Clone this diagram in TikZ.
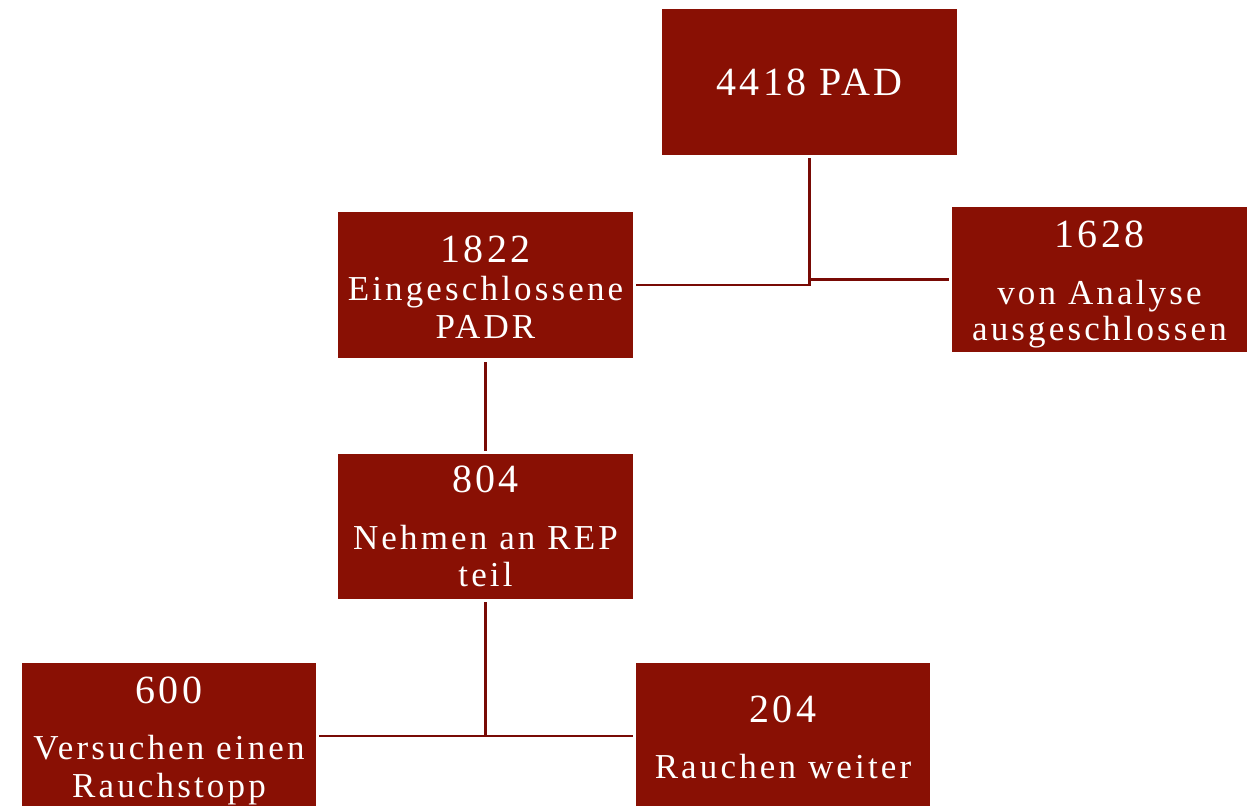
\documentclass[tikz,border=0pt]{standalone}
\usepackage{fontspec}
\setmainfont{Liberation Serif}
\newfontfamily\numfont{Liberation Serif}[LetterSpace=8]
\newfontfamily\txtfont{Liberation Serif}[LetterSpace=9]
\definecolor{boxred}{RGB}{137,16,4}
\definecolor{linered}{RGB}{120,10,5}
\tikzset{
  box/.style={fill=boxred, draw=none, anchor=north west, inner sep=0pt},
  num/.style={text=white, anchor=base, inner sep=0pt, font=\numfont\fontsize{40}{44}\selectfont},
  txt/.style={text=white, anchor=base, inner sep=0pt, font=\txtfont\fontsize{35}{38}\selectfont},
  conn/.style={draw=linered, line width=2.6pt}
}
\begin{document}
\begin{tikzpicture}[x=1pt,y=-1pt]
\useasboundingbox (0,0) rectangle (1251,806);
% boxes
\node[box, minimum width=295pt, minimum height=146pt] (top) at (662,9) {};
\node[box, minimum width=295pt, minimum height=146pt] (b1822) at (338,212) {};
\node[box, minimum width=295pt, minimum height=145pt] (b1628) at (952,207) {};
\node[box, minimum width=295pt, minimum height=145pt] (b804) at (338,454) {};
\node[box, minimum width=294pt, minimum height=150pt] (b600) at (22,663) {};
\node[box, minimum width=294pt, minimum height=150pt] (b204) at (636,663) {};
% texts
\node[num] (t0) at (809.5,95) {4418 PAD};
\node[num] (t1a) at (485.5,262) {1822};
\node[txt] (t1b) at (485.5,300) {Eingeschlossene};
\node[txt] (t1c) at (485.5,338) {PADR};
\node[num] (t2a) at (1099.5,247) {1628};
\node[txt] (t2b) at (1099.5,304) {von Analyse};
\node[txt] (t2c) at (1099.5,340) {ausgeschlossen};
\node[num] (t3a) at (485.5,492) {804};
\node[txt] (t3b) at (485.5,549) {Nehmen an REP};
\node[txt] (t3c) at (485.5,586) {teil};
\node[num] (t4a) at (169,703) {600};
\node[txt] (t4b) at (169,759) {Versuchen einen};
\node[txt] (t4c) at (169,797) {Rauchstopp};
\node[num] (t5a) at (783,722) {204};
\node[txt] (t5b) at (783,778) {Rauchen weiter};
% connectors
\coordinate (j1) at (top.south |- 0,285);
\coordinate (j2) at (b804.south |- 0,736);
\draw[conn] ([yshift=-3pt]top.south) -- (j1) -- ([xshift=3pt]b1822.east |- j1);
\draw[conn] (top.south |- b1628.west) -- ([xshift=-3pt]b1628.west);
\draw[conn] ([yshift=-4pt]b1822.south) -- ([yshift=3pt]b804.north);
\draw[conn] ([yshift=-3pt]b804.south) -- (j2) -- ([xshift=3pt]b600.east |- j2);
\draw[conn] (j2) -- ([xshift=-3pt]b204.west |- j2);
\end{tikzpicture}
\end{document}
